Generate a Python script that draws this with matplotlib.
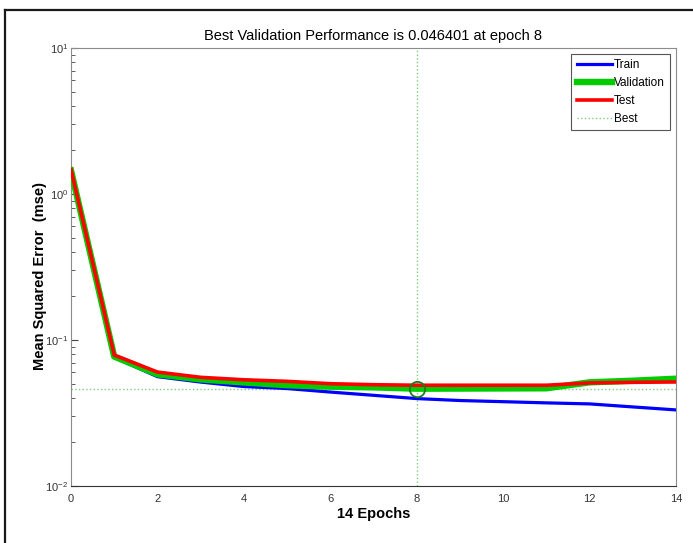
import matplotlib
matplotlib.use('Agg')
import matplotlib.pyplot as plt
from matplotlib.lines import Line2D

plt.rcParams['font.family'] = ['Liberation Sans Narrow', 'Liberation Sans', 'DejaVu Sans']

# Training record (mse per epoch)
epochs = list(range(15))
train_mse = [1.45, 0.076, 0.0561, 0.0515, 0.0480, 0.0465, 0.0440, 0.0418,
             0.0397, 0.0385, 0.0378, 0.0371, 0.0365, 0.0348, 0.0332]
val_mse = [1.45, 0.077, 0.0582, 0.0537, 0.0512, 0.0490, 0.0479, 0.0474,
           0.046401, 0.0465, 0.0466, 0.0467, 0.0513, 0.0526, 0.0543]
test_mse = [1.47, 0.0789, 0.0603, 0.0555, 0.0534, 0.0521, 0.0502, 0.0494,
            0.0490, 0.0490, 0.0490, 0.0490, 0.0508, 0.0513, 0.0516]
best_epoch = 8
best_perf = 0.046401

fig = plt.figure(figsize=(6.93, 5.43), dpi=100)
ax = fig.add_axes([71 / 693, 1 - 486 / 543, 605 / 693, 438 / 543])

# outer frame (left and top edges visible)
fig.add_artist(Line2D([4.5 / 693, 4.5 / 693], [0, 1 - 10 / 543],
                      transform=fig.transFigure, color='#1a1a1a', lw=1.6))
fig.add_artist(Line2D([4.5 / 693, 1], [1 - 10 / 543, 1 - 10 / 543],
                      transform=fig.transFigure, color='#1a1a1a', lw=1.6))

# best lines underneath the curves
ax.axhline(best_perf, color='#7ccf7c', ls=':', lw=1.0, zorder=1)
ax.axvline(best_epoch, color='#7ccf7c', ls=':', lw=1.0, zorder=1)

ax.plot(epochs, train_mse, color='#0000ff', lw=2.3, zorder=2, label='Train')
ax.plot(epochs, val_mse, color='#00cc00', lw=4.6, zorder=3, label='Validation')
ax.plot(epochs, test_mse, color='#ff0000', lw=2.6, zorder=4, label='Test')
ax.plot([best_epoch], [best_perf], 'o', ms=11, mfc='none', mec='#1e7a1e',
        mew=1.3, zorder=5)

ax.set_yscale('log')
ax.set_xlim(0, 14)
ax.set_ylim(1e-2, 1e1)
ax.set_xticks(range(0, 15, 2))

ax.tick_params(axis='both', which='both', direction='in', labelsize=8,
               labelcolor='#333333', color='#444444')
ax.tick_params(axis='y', which='major', length=5, pad=2)
ax.tick_params(axis='y', which='minor', length=3)
ax.tick_params(axis='x', which='major', length=0, pad=6)

for side in ['left', 'top', 'right']:
    ax.spines[side].set_color('#8c8c8c')
ax.spines['bottom'].set_color('#333333')

ax.set_title('Best Validation Performance is 0.046401 at epoch 8',
             fontsize=10.5, pad=6)
ax.set_xlabel('14 Epochs', fontsize=10.5, fontweight='bold', labelpad=2)
ax.set_ylabel('Mean Squared Error  (mse)', fontsize=10.5, fontweight='bold',
              labelpad=0)
ax.yaxis.set_label_coords(-0.04, 0.48)

handles = [Line2D([], [], color='#0000ff', lw=2.3),
           Line2D([], [], color='#00cc00', lw=4.6),
           Line2D([], [], color='#ff0000', lw=2.6),
           Line2D([], [], color='#7ccf7c', ls=':', lw=1.0)]
leg = ax.legend(handles, ['Train', 'Validation', 'Test', 'Best'],
                loc='upper right', fontsize=8.5, fancybox=False,
                framealpha=1, edgecolor='#555555', handlelength=3.0,
                handletextpad=0.15, borderpad=0.45, labelspacing=0.5,
                borderaxespad=0.5)
leg.get_frame().set_linewidth(0.8)

fig.savefig('out.png', dpi=100)
